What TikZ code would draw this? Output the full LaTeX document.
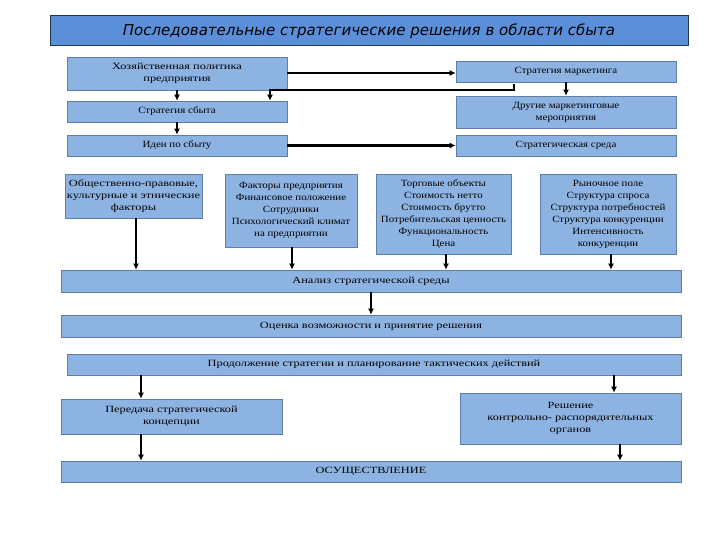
\documentclass[tikz,border=0pt]{standalone}
\usepackage{fontspec}
\setmainfont{Liberation Serif}
\newfontfamily\titlefont{DejaVu Sans}
\newfontfamily\boxfont[FakeStretch=1.15]{Liberation Serif}
\newfontfamily\rowfont[FakeStretch=1.3]{Liberation Serif}
\usetikzlibrary{arrows.meta}
\definecolor{boxblue}{HTML}{8DB3E2}
\definecolor{boxline}{HTML}{5F7FA8}
\definecolor{titleblue}{HTML}{5B8FD9}
\definecolor{titleline}{HTML}{1F3550}

\begin{document}
\begin{tikzpicture}[x=1pt, y=-1pt,
    blk/.style={draw=boxline, fill=boxblue, line width=0.6pt, inner sep=1pt, align=center,
        font=\boxfont\fontsize{9.5}{12}\selectfont},
    row/.style={blk, font=\rowfont\fontsize{9.5}{12}\selectfont},
    arr/.style={line width=2.4pt, -{Latex[length=6pt,width=6pt]}}]
    \useasboundingbox (0,0) rectangle (720,540);
    \node[draw=titleline, fill=titleblue, line width=1pt, minimum width=638pt, minimum height=30pt,
        font=\titlefont\itshape\fontsize{15}{17}\selectfont] (title) at (369,31)
        {Последовательные стратегические решения в области сбыта};
    \node[row, minimum width=220pt, minimum height=33pt] (hoz) at (177,73.5) {Хозяйственная политика\\предприятия};
    \node[blk, minimum width=220pt, minimum height=21pt] (mark) at (566,71.5) {Стратегия маркетинга};
    \node[blk, minimum width=220pt, minimum height=21pt] (sbyt) at (177,111.5) {Стратегия сбыта};
    \node[blk, minimum width=220pt, minimum height=32pt] (drug) at (566,112) {Другие маркетинговые\\мероприятия};
    \node[blk, minimum width=220pt, minimum height=21pt] (idei) at (177,145.5) {Идеи по сбыту};
    \node[blk, minimum width=220pt, minimum height=21pt] (sreda) at (566,145.5) {Стратегическая среда};
    \node[row, minimum width=137pt, minimum height=44pt] (obsh) at (133.5,196)
        {Общественно-правовые,\\культурные и этнические\\факторы};
    \node[blk, minimum width=132pt, minimum height=73pt] (fakt) at (291,210.5)
        {Факторы предприятия\\Финансовое положение\\Сотрудники\\Психологический климат\\на предприятии};
    \node[blk, minimum width=135pt, minimum height=80pt] (torg) at (443.5,214)
        {Торговые объекты\\Стоимость нетто\\Стоимость брутто\\Потребительская ценность\\Функциональность\\Цена};
    \node[blk, minimum width=136pt, minimum height=80pt] (rynok) at (608,214)
        {Рыночное поле\\Структура спроса\\Структура потребностей\\Структура конкуренции\\Интенсивность\\конкуренции};
    \node[row, minimum width=620pt, minimum height=22pt] (analiz) at (371,281) {Анализ стратегической среды};
    \node[row, minimum width=620pt, minimum height=22pt] (ocenka) at (371,326) {Оценка возможности и принятие решения};
    \node[row, minimum width=614pt, minimum height=21pt] (prod) at (374,364.5)
        {Продолжение стратегии и планирование тактических действий};
    \node[row, minimum width=221pt, minimum height=35pt] (pered) at (171.5,416.5) {Передача стратегической\\концепции};
    \node[row, minimum width=221pt, minimum height=51pt] (resh) at (570.5,418.5)
        {Решение\\контрольно- распорядительных\\органов};
    \node[row, minimum width=620pt, minimum height=21pt] (osush) at (371,471.5) {ОСУЩЕСТВЛЕНИЕ};
    \coordinate (tick) at (514,84);
    \draw[arr] (hoz.east |- 0,73) -- (mark.west |- 0,73);
    \draw[arr] (idei.east) -- (sreda.west);
    \draw[arr] (hoz) -- (sbyt);
    \draw[arr] (sbyt) -- (idei);
    \draw[arr] (mark) -- (drug);
    \draw[arr] (tick) -- ++(0,6) -| (sbyt.north -| 270,0);
    \draw[arr] (obsh.south -| 136,0) -- (analiz.north -| 136,0);
    \draw[arr] (fakt.south -| 292,0) -- (analiz.north -| 292,0);
    \draw[arr] (torg.south -| 446,0) -- (analiz.north -| 446,0);
    \draw[arr] (rynok.south -| 611,0) -- (analiz.north -| 611,0);
    \draw[arr] (analiz) -- (ocenka);
    \draw[arr] (prod.south -| 141,0) -- (pered.north -| 141,0);
    \draw[arr] (prod.south -| 614,0) -- (resh.north -| 614,0);
    \draw[arr] (pered.south -| 141,0) -- (osush.north -| 141,0);
    \draw[arr] (resh.south -| 620,0) -- (osush.north -| 620,0);
\end{tikzpicture}
\end{document}
